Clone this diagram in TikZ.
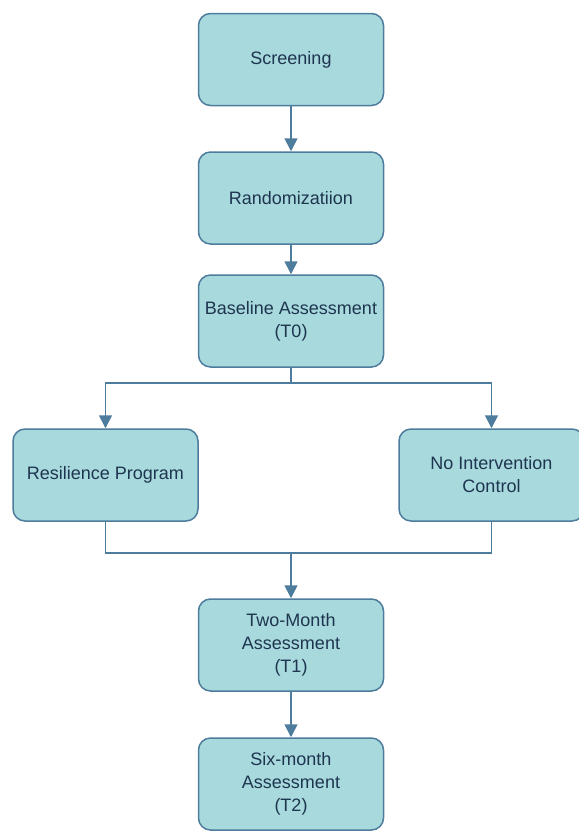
\documentclass[tikz,border=0pt]{standalone}
\usepackage{fontspec}
\setmainfont{Liberation Sans}
\usetikzlibrary{arrows.meta}
\definecolor{boxfill}{HTML}{A8D9DC}
\definecolor{boxline}{HTML}{4D7C9C}
\definecolor{txt}{HTML}{1E3550}
\tikzset{
  stage/.style={draw=boxline, fill=boxfill, line width=1.5pt, rounded corners=12pt,
    minimum width=185pt, minimum height=92pt, inner sep=2pt, align=center,
    text=txt, font=\fontsize{18}{23}\selectfont},
  conn/.style={draw=boxline, line width=1.6pt},
  arr/.style={conn, -{Triangle[length=13pt,width=13pt]}}
}
\begin{document}
\begin{tikzpicture}[x=1pt,y=-1pt]
\useasboundingbox (0,0) rectangle (579,831);
\clip (0,0) rectangle (579,831);
\node[stage] (scr) at (291,59.5) {Screening};
\node[stage] (ran) at (291,198) {Randomizatiion};
\node[stage] (base) at (291,321) {Baseline Assessment\\(T0)};
\node[stage] (res) at (105.5,475) {Resilience Program};
\node[stage] (noi) at (491.5,475) {No Intervention\\Control};
\node[stage] (two) at (291,645) {Two-Month\\Assessment\\(T1)};
\node[stage] (six) at (291,784) {Six-month\\Assessment\\(T2)};
\coordinate (split) at (291,383);
\coordinate (merge) at (291,553);
\draw[arr] (scr) -- (ran);
\draw[arr] (ran) -- (base);
\draw[conn] (base) -- (split);
\draw[arr] (split) -| (res);
\draw[arr] (split) -| (noi);
\draw[conn] (res) |- (merge);
\draw[conn] (noi) |- (merge);
\draw[arr] (merge) -- (two);
\draw[arr] (two) -- (six);
\end{tikzpicture}
\end{document}
